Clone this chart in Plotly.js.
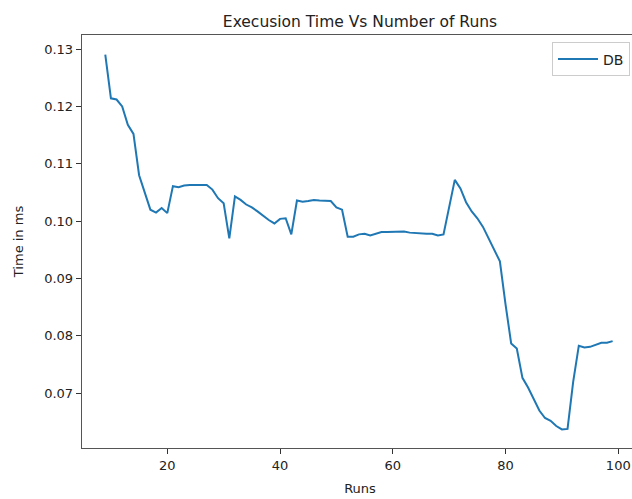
<!DOCTYPE html>
<html>
<head>
<meta charset="utf-8">
<script src="https://cdn.plot.ly/plotly-3.0.1.min.js"></script>
<style>
html,body{margin:0;padding:0;overflow:hidden;background:#fff;}
#chart{width:640px;height:499px;}
</style>
</head>
<body>
<div id="chart"></div>
<script>
const runs = [];
for (let r = 9; r <= 99; r++) runs.push(r);
const dbTimes = [
  0.1290, 0.1214, 0.1212, 0.1200, 0.1168, 0.1152, 0.1080, 0.1050, 0.1020, 0.1015,
  0.1023, 0.1014, 0.1061, 0.1059, 0.1062, 0.1063, 0.1063, 0.1063, 0.1063, 0.1055,
  0.1040, 0.1031, 0.0970, 0.1043, 0.1037, 0.1029, 0.1024, 0.1017, 0.1009, 0.1002,
  0.0996, 0.1004, 0.1005, 0.0977, 0.1036, 0.1034, 0.1035, 0.1037, 0.1036, 0.1035,
  0.1035, 0.1024, 0.1020, 0.0973, 0.0973, 0.0977, 0.0978, 0.0975, 0.0978, 0.0981,
  0.0981, 0.0981, 0.0981, 0.0982, 0.0980, 0.0979, 0.0979, 0.0978, 0.0978, 0.0975,
  0.0977, 0.1025, 0.1072, 0.1057, 0.1033, 0.1017, 0.1005, 0.0990, 0.0970, 0.0950,
  0.0930, 0.0855, 0.0787, 0.0778, 0.0727, 0.0710, 0.0690, 0.0670, 0.0657, 0.0652,
  0.0643, 0.0637, 0.0638, 0.0720, 0.0783, 0.0780, 0.0781, 0.0784, 0.0788, 0.0788,
  0.0791
];
const yTicks = [0.07, 0.08, 0.09, 0.10, 0.11, 0.12, 0.13];
const yTickText = ["0.07", "0.08", "0.09", "0.10", "0.11", "0.12", "0.13"];
const xTicks = [20, 40, 60, 80, 100];

const font = "DejaVu Sans, sans-serif";
const trace = {
  x: runs, y: dbTimes, type: "scatter", mode: "lines", name: "DB",
  line: {color: "#1f77b4", width: 2}
};
const layout = {
  width: 640, height: 499,
  margin: {l: 82, r: 2, t: 35, b: 51},
  paper_bgcolor: "#fff", plot_bgcolor: "#fff",
  font: {family: font, size: 13, color: "#222"},
  title: {text: "Execusion Time Vs Number of Runs", font: {family: font, size: 15.5, color: "#222"},
          x: 0.5, xref: "paper", xanchor: "center", y: 1, yref: "paper", yanchor: "bottom", pad: {b: 8}},
  xaxis: {
    range: [4.87, 103.5], tickvals: xTicks, ticktext: xTicks.map(String),
    ticks: "outside", ticklen: 5, tickwidth: 1, tickcolor: "#333",
    showline: true, linecolor: "#555", linewidth: 1.3, mirror: true,
    showgrid: false, zeroline: false,
    title: {text: "Runs", font: {family: font, size: 13, color: "#222"}, standoff: 12},
    tickfont: {family: font, size: 13, color: "#222"}
  },
  yaxis: {
    range: [0.06047, 0.13244], tickvals: yTicks, ticktext: yTickText,
    ticks: "outside", ticklen: 5, tickwidth: 1, tickcolor: "#333",
    showline: true, linecolor: "#555", linewidth: 1.3, mirror: true,
    showgrid: false, zeroline: false,
    title: {text: "Time in ms", font: {family: font, size: 13, color: "#222"}, standoff: 17},
    tickfont: {family: font, size: 13, color: "#222"}
  },
  showlegend: true,
  legend: {
    x: 0.9856, xanchor: "right", y: 0.982, yanchor: "top",
    bgcolor: "rgba(255,255,255,0.8)", bordercolor: "#ccc", borderwidth: 1,
    font: {family: font, size: 14, color: "#222"}, itemwidth: 40
  }
};
Plotly.newPlot("chart", [trace], layout, {staticPlot: true, displayModeBar: false});
</script>
</body>
</html>
